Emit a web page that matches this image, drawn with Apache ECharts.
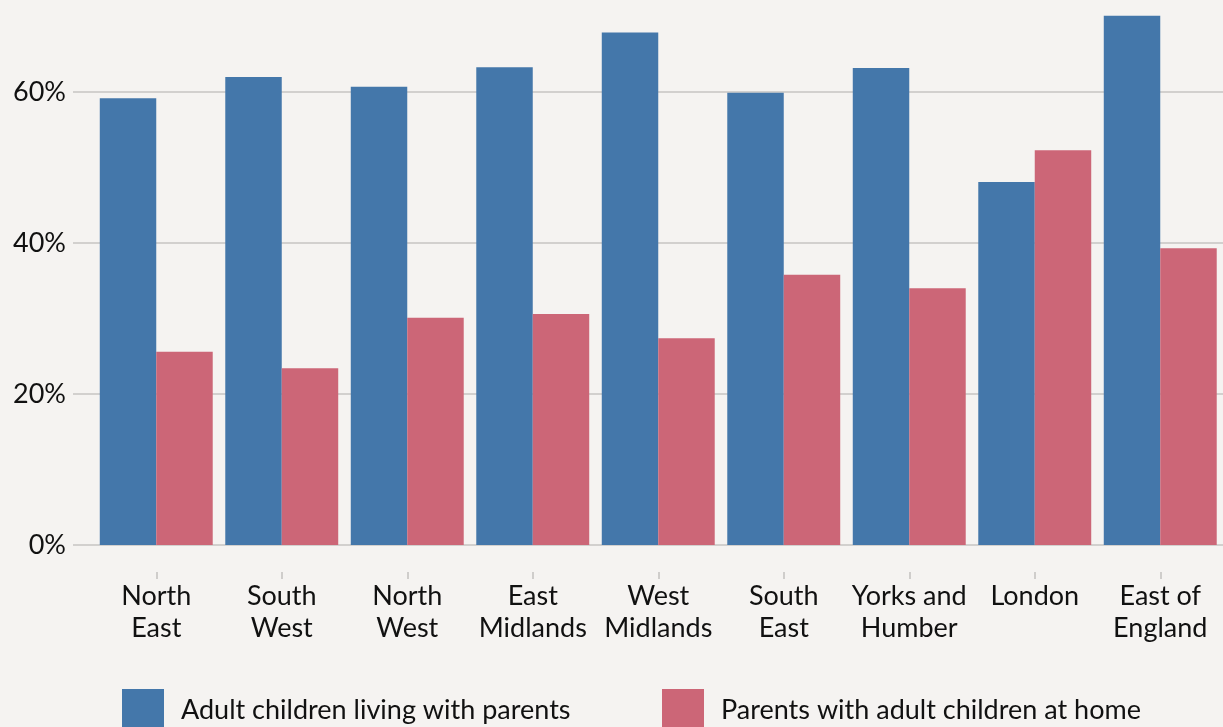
<!DOCTYPE html>
<html><head><meta charset="utf-8">
<script src="https://cdn.jsdelivr.net/npm/echarts@6/dist/echarts.min.js"></script>
<style>html,body{margin:0;padding:0;background:#f5f3f1;}#c{width:1223px;height:727px;}</style>
</head><body><div id="c"></div>
<script>
const categories = ['North\nEast','South\nWest','North\nWest','East\nMidlands','West\nMidlands','South\nEast','Yorks and\nHumber','London','East of\nEngland'];
const adultChildren = [59.2, 62.0, 60.7, 63.3, 67.9, 59.9, 63.2, 48.1, 70.1];
const parentsWithChildren = [25.6, 23.4, 30.1, 30.6, 27.4, 35.8, 34.0, 52.3, 39.3];
const seriesNames = ['Adult children living with parents', 'Parents with adult children at home'];
const yTicks = [0, 20, 40, 60];

const FONT = 'Lato';
const FS = 27;
const chart = echarts.init(document.getElementById('c'));
chart.setOption({
  backgroundColor: '#f5f3f1',
  animation: false,
  textStyle: {fontFamily: FONT},
  grid: [
    {left: 73, right: 0, top: 0, height: 545},
    {left: 93.5, width: 1134, top: 0, height: 545},
    {left: 93.5, width: 1134, top: 0, height: 572}
  ],
  legend: [
    {data: [seriesNames[0]], left: 122, top: 689, padding: 0, itemWidth: 42, itemHeight: 42, icon: 'rect',
     textStyle: {fontFamily: FONT, fontSize: FS, color: '#111', padding: [0,0,0,12]}},
    {data: [seriesNames[1]], left: 662, top: 689, padding: 0, itemWidth: 42, itemHeight: 42, icon: 'rect',
     textStyle: {fontFamily: FONT, fontSize: FS, color: '#111', padding: [0,0,0,12]}}
  ],
  xAxis: [
    {type: 'value', gridIndex: 0, min: 0, max: 1, show: false},
    {type: 'category', gridIndex: 1, data: categories, show: false},
    {type: 'category', gridIndex: 2, data: categories,
     axisLine: {show: false},
     axisTick: {show: true, alignWithLabel: true, length: 7, lineStyle: {color: '#cfcdcb', width: 2}},
     axisLabel: {fontFamily: FONT, fontSize: FS, lineHeight: 32, color: '#111', margin: 8, interval: 0}}
  ],
  yAxis: [
    {type: 'value', gridIndex: 0, min: 0, max: 72.2, interval: 20,
     axisLine: {show: false}, axisTick: {show: false},
     splitLine: {show: true, showMinLine: true, showMaxLine: false, lineStyle: {color: '#d2d0ce', width: 2}},
     axisLabel: {formatter: v => yTicks.includes(v) ? v + '%' : '', showMaxLabel: false,
       fontFamily: FONT, fontSize: FS, color: '#111', margin: 7}},
    {type: 'value', gridIndex: 1, min: 0, max: 72.2, show: false},
    {type: 'value', gridIndex: 2, min: 0, max: 1, show: false}
  ],
  series: [
    {name: seriesNames[0], type: 'bar', xAxisIndex: 1, yAxisIndex: 1, data: adultChildren,
     itemStyle: {color: '#4477aa'}, barGap: '0%', barCategoryGap: '10%'},
    {name: seriesNames[1], type: 'bar', xAxisIndex: 1, yAxisIndex: 1, data: parentsWithChildren,
     itemStyle: {color: '#cc6677'}, barGap: '0%', barCategoryGap: '10%'}
  ]
});
</script></body></html>
